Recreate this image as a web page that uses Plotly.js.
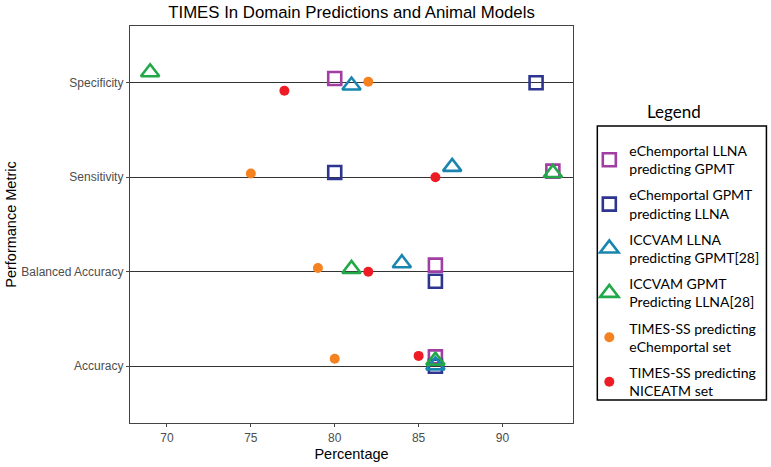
<!DOCTYPE html>
<html>
<head>
<meta charset="utf-8">
<script src="https://cdn.plot.ly/plotly-3.0.1.min.js"></script>
<style>html,body{margin:0;padding:0;background:#fff;}#chart{width:771px;height:467px;}</style>
</head>
<body>
<div id="chart"></div>
<script>
// Categories (bottom to top)
const metrics = ["Accuracy", "Balanced Accuracy", "Sensitivity", "Specificity"];

// Series names
const seriesNames = [
  "eChemportal LLNA<br>predicting GPMT",
  "eChemportal GPMT<br>predicting LLNA",
  "ICCVAM LLNA<br>predicting GPMT[28]",
  "ICCVAM GPMT<br>Predicting LLNA[28]",
  "TIMES-SS predicting<br>eChemportal set",
  "TIMES-SS predicting<br>NICEATM set"
];

// Percentage values, ordered as metrics
const echemLLNA   = [86, 86, 93, 80];
const echemGPMT   = [86, 86, 80, 92];
const iccvamLLNA  = [86, 84, 87, 81];
const iccvamGPMT  = [86, 81, 93, 69];
const timesEchem  = [80, 79, 75, 82];
const timesNice   = [85, 82, 86, 77];

// Vertical jitter (in category units) as seen in the picture
const jitEchemLLNA  = [0.10, 0.07, 0.065, 0.045];
const jitEchemGPMT  = [0.00, -0.10, 0.05, 0.00];
const jitIccvamLLNA = [0.01, 0.09, 0.11, -0.03];
const jitIccvamGPMT = [0.06, 0.03, 0.045, 0.11];
const jitTimesEchem = [0.08, 0.04, 0.04, 0.01];
const jitTimesNice  = [0.11, 0.00, 0.00, -0.085];

const values = [echemLLNA, echemGPMT, iccvamLLNA, iccvamGPMT, timesEchem, timesNice];
const jitters = [jitEchemLLNA, jitEchemGPMT, jitIccvamLLNA, jitIccvamGPMT, jitTimesEchem, jitTimesNice];

const colors = ["#A23DA3", "#2D3590", "#1A86B0", "#22A848", "#F58220", "#ED1C24"];
const symbols = ["square-open", "square-open", "triangle-up-open", "triangle-up-open", "circle", "circle"];
const sizes = [13, 13, 16, 16, 10, 10];
const lineWidths = [2.6, 2.6, 2.6, 2.6, 0, 0];

const traces = values.map((vals, i) => ({
  type: "scatter",
  mode: "markers",
  name: seriesNames[i],
  legendgroup: "g" + i,
  x: vals,
  y: metrics.map((m, j) => (j + 1) + jitters[i][j]),
  marker: {
    symbol: symbols[i],
    size: sizes[i],
    color: colors[i],
    line: {color: colors[i], width: lineWidths[i]}
  },
  hoverinfo: "x+name"
}));

// Plot area in pixels: x 130..572.7, y 26..423
const PW = 442.7, PH = 397;
const px = v => (v - 130) / PW;
const py = v => (423 - v) / PH;

const layout = {
  width: 771,
  height: 467,
  margin: {l: 130, r: 198.3, t: 26, b: 44, autoexpand: false},
  paper_bgcolor: "#fff",
  plot_bgcolor: "#fff",
  font: {family: "Arial", color: "#000"},
  title: {
    text: "TIMES In Domain Predictions and Animal Models",
    font: {size: 16.8, color: "#000", family: "Arial"},
    x: 0.5, xref: "paper", xanchor: "center",
    y: 0.974, yref: "container", yanchor: "middle"
  },
  xaxis: {
    range: [67.8, 94.2],
    tickvals: [70, 75, 80, 85, 90],
    ticks: "outside", ticklen: 3, tickcolor: "#444", tickwidth: 1,
    tickfont: {size: 12, color: "#4D4D4D", family: "Arial"},
    showgrid: false, zeroline: false,
    showline: true, linecolor: "#444", linewidth: 1.2, mirror: true,
    automargin: false,
    title: {text: "Percentage", font: {size: 14.5, color: "#000", family: "Arial"}, standoff: 5}
  },
  yaxis: {
    range: [0.4, 4.6],
    tickvals: [1, 2, 3, 4],
    ticktext: metrics,
    ticks: "outside", ticklen: 3, tickcolor: "#444", tickwidth: 1,
    tickfont: {size: 12, color: "#4D4D4D", family: "Arial"},
    showgrid: true, gridcolor: "#333", gridwidth: 1.3,
    zeroline: false,
    showline: true, linecolor: "#444", linewidth: 1.2, mirror: true,
    automargin: false,
    title: {text: "Performance Metric", font: {size: 14.5, color: "#000", family: "Arial"}}
  },
  showlegend: true,
  legend: {
    x: px(589), xanchor: "left", xref: "paper",
    y: py(135), yanchor: "top", yref: "paper",
    borderwidth: 0,
    bgcolor: "rgba(0,0,0,0)",
    font: {family: "Lato", size: 14, color: "#000"},
    tracegroupgap: 5,
    itemwidth: 30
  },
  shapes: [{
    type: "rect", xref: "paper", yref: "paper",
    x0: px(597), x1: px(766), y0: py(126), y1: py(400),
    line: {color: "#000", width: 1.5}, fillcolor: "rgba(0,0,0,0)", layer: "below"
  }],
  annotations: [{
    text: "Legend",
    xref: "paper", yref: "paper",
    x: px(674), y: py(111),
    xanchor: "center", yanchor: "middle",
    showarrow: false,
    font: {family: "Lato", size: 17, color: "#000"}
  }]
};

Plotly.newPlot("chart", traces, layout, {displayModeBar: false, staticPlot: true});
</script>
</body>
</html>
